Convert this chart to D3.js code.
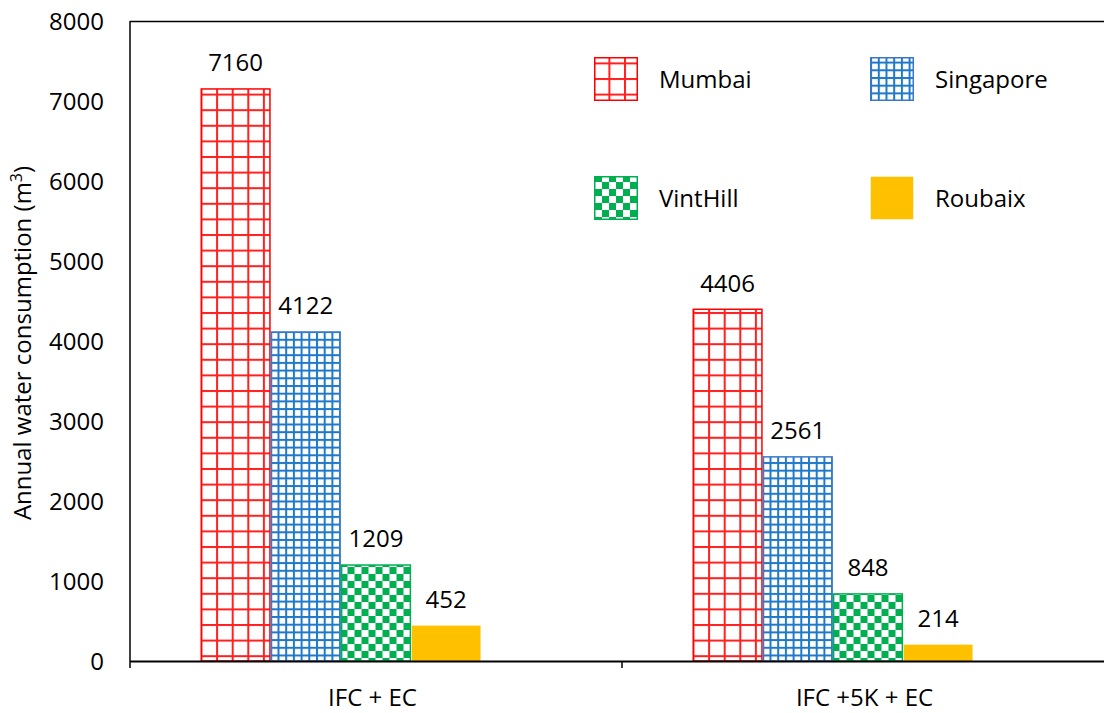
<!DOCTYPE html>
<html><head><meta charset="utf-8">
<script src="https://cdn.jsdelivr.net/npm/d3@7"></script>
<style>body{margin:0;background:#fff}svg{display:block}text{font-family:"Open Sans",sans-serif;fill:#000}</style>
</head><body>
<svg id="c" width="1104" height="713"></svg>
<script>
const categories = ["IFC + EC", "IFC +5K + EC"];
const seriesNames = ["Mumbai", "Singapore", "VintHill", "Roubaix"];
const mumbai = [7160, 4406];
const singapore = [4122, 2561];
const vintHill = [1209, 848];
const roubaix = [452, 214];
const yTicks = [0, 1000, 2000, 3000, 4000, 5000, 6000, 7000, 8000];

const seriesValues = [mumbai, singapore, vintHill, roubaix];
const fills = ["url(#pMumbai)", "url(#pSing)", "url(#pVint)", "#FFC000"];
const strokes = ["#FF0000", "#3A78C9", "#00B050", "none"];

const svg = d3.select("#c");
const pLeft = 130, pTop = 21, pBottom = 661, pRight = 1114;

const defs = svg.append("defs");
// Mumbai: large red grid
let p = defs.append("pattern").attr("id","pMumbai").attr("patternUnits","userSpaceOnUse").attr("width",15.6).attr("height",15.6);
p.append("rect").attr("width",15.6).attr("height",15.6).attr("fill","#fff");
p.append("rect").attr("x",0).attr("y",0).attr("width",2).attr("height",15.6).attr("fill","#FF2020");
p.append("rect").attr("x",0).attr("y",0).attr("width",15.6).attr("height",2).attr("fill","#FF2020");
// Singapore: small blue grid
p = defs.append("pattern").attr("id","pSing").attr("patternUnits","userSpaceOnUse").attr("width",7.7).attr("height",7.7);
p.append("rect").attr("width",7.7).attr("height",7.7).attr("fill","#fff");
p.append("rect").attr("x",0).attr("y",0).attr("width",2).attr("height",7.7).attr("fill","#1F78C8");
p.append("rect").attr("x",0).attr("y",0).attr("width",7.7).attr("height",2).attr("fill","#1F78C8");
// VintHill: green checkerboard
p = defs.append("pattern").attr("id","pVint").attr("patternUnits","userSpaceOnUse").attr("width",14).attr("height",14);
p.append("rect").attr("width",14).attr("height",14).attr("fill","#fff");
p.append("rect").attr("x",0).attr("y",0).attr("width",7).attr("height",7).attr("fill","#00B050");
p.append("rect").attr("x",7).attr("y",7).attr("width",7).attr("height",7).attr("fill","#00B050");

const y = d3.scaleLinear().domain([0, 8000]).range([pBottom, pTop]);
const x0 = d3.scaleBand().domain(categories).range([pLeft, pRight]).paddingInner(0.2866).paddingOuter(0.1433);
// five slots per group (last slot empty, as in the original)
const x1 = d3.scaleBand().domain([0,1,2,3,4]).range([0, x0.bandwidth()]);

// axes lines
svg.append("line").attr("x1",pLeft).attr("x2",1104).attr("y1",pTop+0.5).attr("y2",pTop+0.5).attr("stroke","#000").attr("stroke-width",1.5);
svg.append("line").attr("x1",pLeft).attr("x2",pLeft).attr("y1",pTop).attr("y2",pBottom).attr("stroke","#000").attr("stroke-width",1.5);

// y tick labels
svg.append("g").selectAll("text").data(yTicks).join("text")
  .attr("x", 104).attr("y", d => y(d)).attr("dy","0.36em")
  .attr("text-anchor","end").attr("font-size",24).text(d => d);

// y title
svg.append("text").attr("transform",`translate(31,${(pTop+pBottom)/2+2}) rotate(-90)`)
  .attr("text-anchor","middle").attr("font-size",24)
  .html('Annual water consumption (m<tspan dy="-9" font-size="16">3</tspan><tspan dy="9">)</tspan>');

// bars
const groups = svg.append("g").selectAll("g").data(categories).join("g")
  .attr("transform", c => `translate(${x0(c)},0)`);
seriesNames.forEach((s, si) => {
  groups.append("rect")
    .attr("x", (c) => x1(si) + 0.75)
    .attr("width", x1.bandwidth() - 1.5)
    .attr("y", (c, ci) => y(seriesValues[si][ci]) + 0.75)
    .attr("height", (c, ci) => pBottom - y(seriesValues[si][ci]) - 0.75)
    .attr("fill", fills[si])
    .attr("stroke", strokes[si]).attr("stroke-width", 1.5);
  groups.append("text")
    .attr("x", x1(si) + x1.bandwidth()/2)
    .attr("y", (c, ci) => y(seriesValues[si][ci]) - 17)
    .attr("text-anchor","middle").attr("font-size",24)
    .text((c, ci) => seriesValues[si][ci]);
});

// x axis
svg.append("line").attr("x1",pLeft).attr("x2",1104).attr("y1",pBottom+0.5).attr("y2",pBottom+0.5).attr("stroke","#000").attr("stroke-width",2);
const xb = [pLeft, pLeft + x0.step(), pLeft + 2*x0.step()];
svg.append("g").selectAll("line").data(xb).join("line")
  .attr("x1", d => d).attr("x2", d => d).attr("y1", pBottom).attr("y2", pBottom + 7)
  .attr("stroke","#000").attr("stroke-width",1.5);
svg.append("g").selectAll("text").data(categories).join("text")
  .attr("x", c => x0(c) + x0.bandwidth()/2 - 3.5).attr("y", 706)
  .attr("text-anchor","middle").attr("font-size",24).text(c => c);

// legend
const legX = [594, 870], legY = [57, 176];
seriesNames.forEach((s, i) => {
  const lx = legX[i % 2], ly = legY[Math.floor(i / 2)];
  svg.append("rect").attr("x", lx + 0.75).attr("y", ly + 0.75).attr("width", 42.5).attr("height", 42.5)
    .attr("fill", fills[i]).attr("stroke", strokes[i]).attr("stroke-width", 1.5);
  svg.append("text").attr("x", lx + 65).attr("y", ly + 22).attr("dy","0.36em")
    .attr("font-size", 24).text(s);
});
</script>
</body></html>
